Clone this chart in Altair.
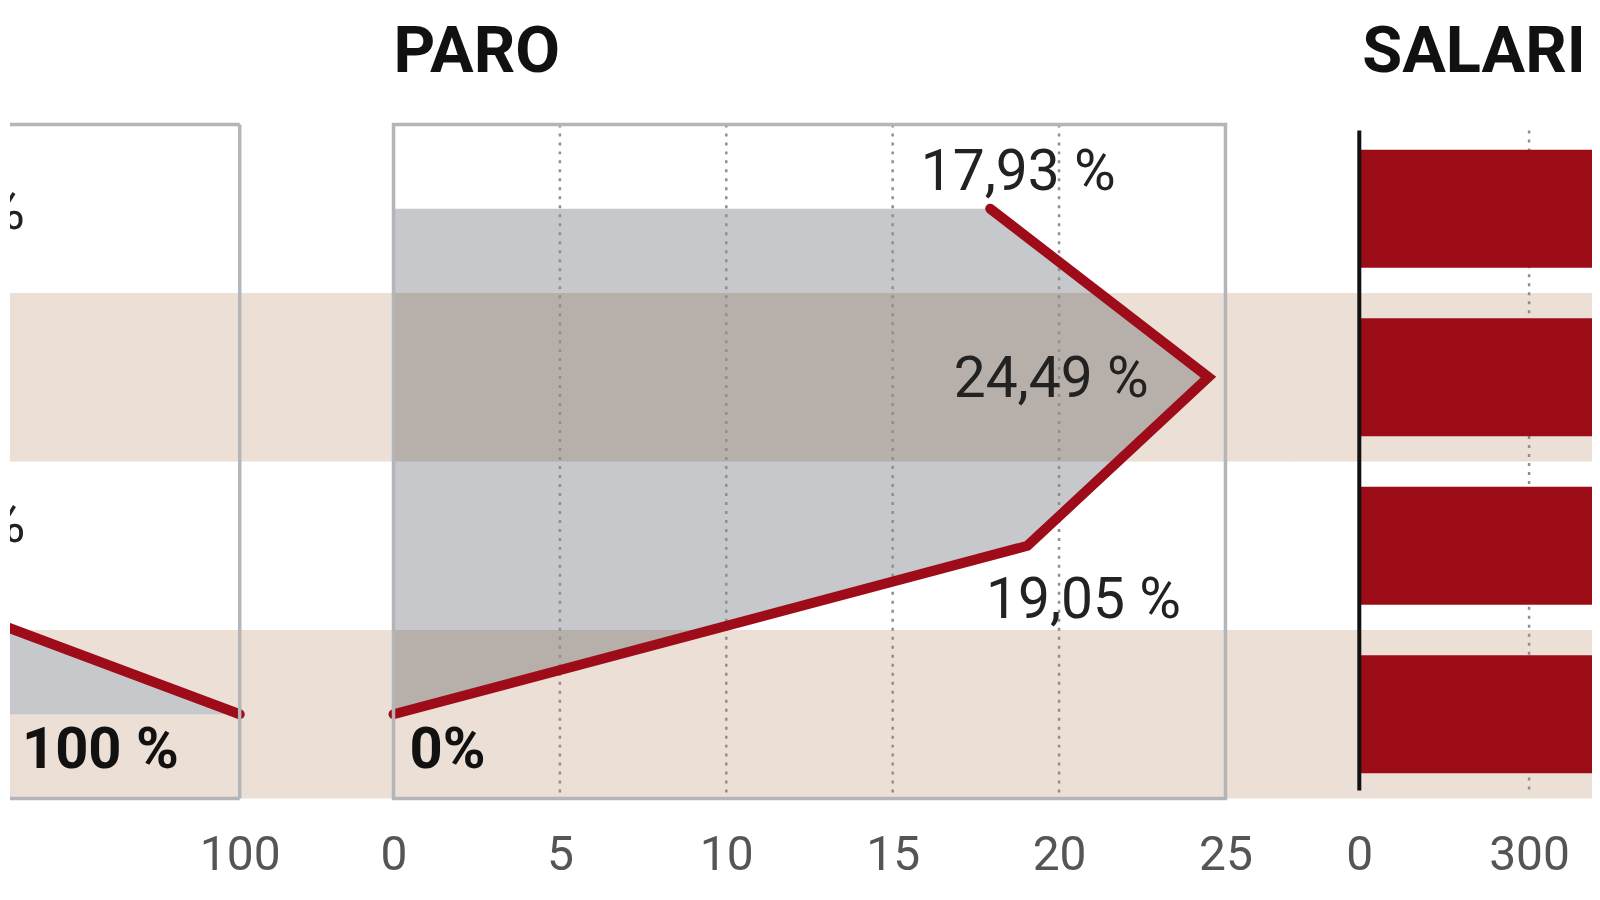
import altair as alt
import pandas as pd

# ---------------- data ----------------
filas = [0, 1, 2, 3]
filas_sombreadas = [1, 3]
titulos = ["PARO", "SALARIO"]

izq_valores = [52.1, 38.0, 45.9, 100.0]
izq_etiquetas = ["52,10 %", "38,00 %", "45,90 %", "100 %"]
izq_ticks = [0, 50, 100]

paro_valores = [17.93, 24.49, 19.05, 0.0]
paro_etiquetas = ["17,93 %", "24,49 %", "19,05 %", "0%"]
paro_ticks = [0, 5, 10, 15, 20, 25]

salario_valores = [1250, 1180, 1050, 1320]
salario_ticks = [0, 300, 600, 900, 1200]

# ---------------- style ----------------
RED = "#9d0c18"
BAR = "#9c0c16"
BEIGE = "#ecdfd5"
AREA = "#c6c8cb"
FRAME = "#b3b5b8"
GRID = "#8f8f8f"
FONT = "Roboto"

H = 675
GAP = 134
W_L, W_P, W_S = 250, 833, 233
PX_PARO = W_P / 25.0
PX_IZQ = W_P / 100.0
PX_SAL = 170 / 300.0
izq_dom = [100 - 230 / PX_IZQ, 100 + (W_L - 230) / PX_IZQ]
paro_dom = [0, 25]
sal_dom = [0, W_S / PX_SAL]

yscale = alt.Scale(domain=[-0.5, 3.5], reverse=True, nice=False, zero=False)


def xenc(dom, ticks, field="valor"):
    vals = [t for t in ticks if dom[0] <= t <= dom[1]]
    return alt.X(
        f"{field}:Q",
        scale=alt.Scale(domain=dom, nice=False, zero=False),
        axis=alt.Axis(values=vals, format="d", labelFontSize=48, labelFont=FONT,
                      labelColor="#555555", domain=False, ticks=False, grid=False,
                      labelPadding=33, labelFlush=False, title=None),
    )


def bands(x0, x1):
    df = pd.DataFrame({"fila": filas_sombreadas})
    return alt.Chart(df).transform_calculate(
        y0="datum.fila - 0.5", y1="datum.fila + 0.5"
    ).mark_rect(color=BEIGE).encode(
        x=alt.value(x0), x2=alt.value(x1),
        y=alt.Y("y0:Q", scale=yscale, axis=None), y2="y1:Q",
    )


def titulo(texto, dx, limit):
    return alt.Chart(pd.DataFrame({"t": [texto]})).mark_text(
        align="left", baseline="alphabetic", font=FONT, fontSize=65,
        fontWeight="bold", color="#111111", limit=limit, ellipsis="\u200b",
    ).encode(x=alt.value(dx), y=alt.value(-52), text="t:N")


def labels(df, dom, ticks, specs, clip):
    out = []
    for fila, (align, dx, dy, bold) in zip(filas, specs):
        out.append(
            alt.Chart(df).transform_filter(alt.datum.fila == fila).mark_text(
                align=align, baseline="middle", dx=dx, dy=dy,
                font=FONT, fontSize=58 if bold else 57,
                fontWeight="bold" if bold else "normal",
                color="#111111" if bold else "#222222", clip=clip,
            ).encode(x=xenc(dom, ticks), y=alt.Y("fila:Q", scale=yscale, axis=None),
                     text="etiqueta:N")
        )
    return out


# ---------------- left panel (cut off) ----------------
df_izq = pd.DataFrame({"fila": filas, "valor": izq_valores, "etiqueta": izq_etiquetas})
izq_area = alt.Chart(df_izq).mark_area(orient="horizontal", color=AREA, blend="multiply", clip=True).encode(
    x=xenc(izq_dom, izq_ticks), x2=alt.datum(0), y=alt.Y("fila:Q", scale=yscale, axis=None))
izq_line = alt.Chart(df_izq).mark_line(color=RED, strokeWidth=10, strokeCap="round", clip=True).encode(
    x=xenc(izq_dom, izq_ticks), y=alt.Y("fila:Q", scale=yscale, axis=None), order="fila:Q")
frame_df = pd.DataFrame({"valor": [100]})
izq_top = alt.Chart(frame_df).mark_rule(color=FRAME, strokeWidth=3.5).encode(
    x=xenc(izq_dom, izq_ticks), x2=alt.value(0), y=alt.value(0))
izq_bot = alt.Chart(frame_df).mark_rule(color=FRAME, strokeWidth=3.5).encode(
    x=xenc(izq_dom, izq_ticks), x2=alt.value(0), y=alt.value(H))
izq_right = alt.Chart(frame_df).mark_rule(color=FRAME, strokeWidth=3.5).encode(
    x=xenc(izq_dom, izq_ticks), y=alt.value(0), y2=alt.value(H))
izq_specs = [("right", 184, 3, False), ("right", -60, 3, False),
             ("right", 236, -21, False), ("right", -61, 37, True)]
left = alt.layer(
    bands(0, W_L + GAP / 2 + 3), izq_area, izq_line, izq_top, izq_bot, izq_right,
    *labels(df_izq, izq_dom, izq_ticks, izq_specs, True)
).properties(width=W_L, height=H)

# ---------------- PARO ----------------
df_paro = pd.DataFrame({"fila": filas, "valor": paro_valores, "etiqueta": paro_etiquetas})
grid_paro = pd.DataFrame({"valor": [t for t in paro_ticks if 0 < t < 25]})
paro_area = alt.Chart(df_paro).mark_area(orient="horizontal", color=AREA, blend="multiply").encode(
    x=xenc(paro_dom, paro_ticks), x2=alt.datum(0), y=alt.Y("fila:Q", scale=yscale, axis=None))
paro_grid = alt.Chart(grid_paro).mark_rule(color=GRID, strokeWidth=2.5, strokeDash=[3, 6]).encode(
    x=xenc(paro_dom, paro_ticks), y=alt.value(0), y2=alt.value(H))
paro_line = alt.Chart(df_paro).mark_line(color=RED, strokeWidth=10, strokeCap="round").encode(
    x=xenc(paro_dom, paro_ticks), y=alt.Y("fila:Q", scale=yscale, axis=None), order="fila:Q")
paro_frame = alt.Chart(frame_df).mark_rect(fillOpacity=0, stroke=FRAME, strokeWidth=3.5).encode(
    x=alt.value(0), x2=alt.value(W_P), y=alt.value(0), y2=alt.value(H))
paro_specs = [("center", 28, -36, False), ("right", -60, 3, False),
              ("center", 56, 55, False), ("left", 16, 37, True)]
paro = alt.layer(
    bands(-GAP / 2, W_P + GAP / 2 + 3), paro_area, paro_grid, paro_line, paro_frame,
    *labels(df_paro, paro_dom, paro_ticks, paro_specs, False), titulo(titulos[0], 0, 600)
).properties(width=W_P, height=H)

# ---------------- SALARIO ----------------
df_sal = pd.DataFrame({"fila": filas, "valor": salario_valores})
grid_sal = pd.DataFrame({"valor": [t for t in salario_ticks if 0 < t <= sal_dom[1]]})
zero_sal = pd.DataFrame({"valor": [0]})
sal_bars = alt.Chart(df_sal).transform_calculate(
    y0="datum.fila - 0.35", y1="datum.fila + 0.35"
).mark_rect(color=BAR, clip=True).encode(
    x=xenc(sal_dom, salario_ticks), x2=alt.datum(0),
    y=alt.Y("y0:Q", scale=yscale, axis=None), y2="y1:Q")
sal_grid = alt.Chart(grid_sal).mark_rule(color=GRID, strokeWidth=2.5, strokeDash=[3, 6]).encode(
    x=xenc(sal_dom, salario_ticks), y=alt.value(6), y2=alt.value(H - 6))
sal_axis = alt.Chart(zero_sal).mark_rule(color="#111111", strokeWidth=4).encode(
    x=xenc(sal_dom, salario_ticks), y=alt.value(6), y2=alt.value(H - 8))
salario = alt.layer(
    bands(-GAP / 2, W_S), sal_grid, sal_bars, sal_axis, titulo(titulos[1], 3, W_S - 4)
).properties(width=W_S, height=H)

chart = alt.hconcat(left, paro, salario, spacing=GAP, bounds="flush").resolve_scale(
    x="independent", y="independent"
).properties(
    padding={"left": 0, "top": 12, "right": 0, "bottom": 12}, background="white"
).configure_view(stroke=None)

chart.save("out.html", embed_options={"renderer": "svg", "actions": False})
